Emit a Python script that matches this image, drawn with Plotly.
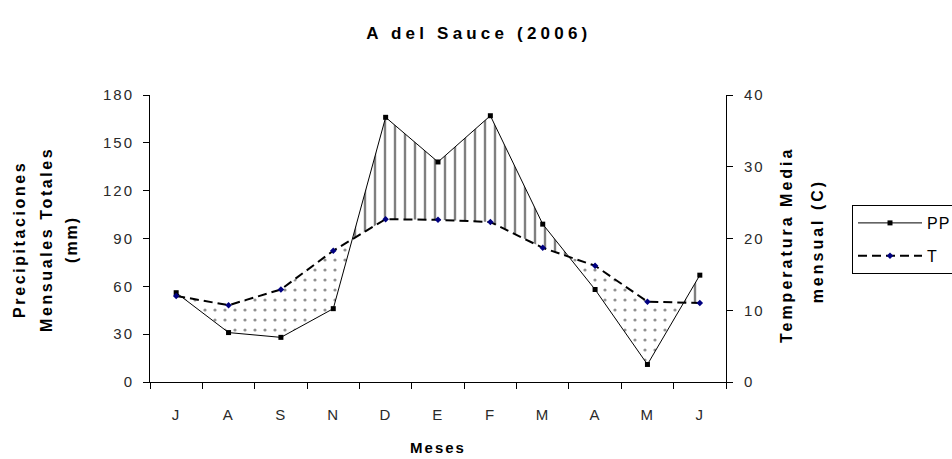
import numpy as np
import plotly.graph_objects as go

months = ["J", "A", "S", "N", "D", "E", "F", "M", "A", "M", "J"]
pp = [56, 31, 28, 46, 166, 138, 167, 99, 58, 11, 67]          # mm
temp = [12.0, 10.7, 12.9, 18.3, 22.7, 22.6, 22.3, 18.7, 16.2, 11.2, 11.0]  # C
pp_ticks = [0, 30, 60, 90, 120, 150, 180]
t_ticks = [0, 10, 20, 30, 40]
pp_max, t_max = 180, 40
scale = pp_max / t_max

xs = np.arange(len(months), dtype=float)
p = np.array(pp, dtype=float)
t = np.array(temp) * scale

# insert crossing points between PP and scaled T
xr, pr, tr = [xs[0]], [p[0]], [t[0]]
for i in range(len(xs) - 1):
    d0, d1 = p[i] - t[i], p[i + 1] - t[i + 1]
    if d0 * d1 < 0:
        f = d0 / (d0 - d1)
        xc = xs[i] + f
        yc = p[i] + f * (p[i + 1] - p[i])
        xr.append(xc); pr.append(yc); tr.append(yc)
    xr.append(xs[i + 1]); pr.append(p[i + 1]); tr.append(t[i + 1])
xr, pr, tr = np.array(xr), np.array(pr), np.array(tr)
upper = np.maximum(pr, tr)
lower = np.minimum(pr, tr)


def sp(s, ls):
    return f'<span style="letter-spacing:{ls}px">{s}</span>'


font = "Liberation Sans, Arial, sans-serif"
fig = go.Figure()
nl = dict(width=0)
fig.add_trace(go.Scatter(x=xr, y=tr, mode="lines", line=nl, showlegend=False, hoverinfo="skip"))
fig.add_trace(go.Scatter(x=xr, y=upper, mode="lines", line=nl, fill="tonexty", fillcolor="rgba(0,0,0,0)",
                         fillpattern=dict(shape="|", size=10, solidity=0.24, fgcolor="black", bgcolor="white"),
                         showlegend=False, hoverinfo="skip"))
fig.add_trace(go.Scatter(x=xr, y=lower, mode="lines", line=nl, showlegend=False, hoverinfo="skip"))
fig.add_trace(go.Scatter(x=xr, y=tr, mode="lines", line=nl, fill="tonexty", fillcolor="rgba(0,0,0,0)",
                         fillpattern=dict(shape=".", size=10, solidity=0.08, fgcolor="#222", bgcolor="white"),
                         showlegend=False, hoverinfo="skip"))
fig.add_trace(go.Scatter(x=xs, y=pp, name=sp("PP", 1), mode="lines+markers", legendgroup="a",
                         line=dict(color="black", width=1),
                         marker=dict(symbol="square", size=5, color="black")))
fig.add_trace(go.Scatter(x=xs, y=temp, name=sp("T", 1), yaxis="y2", mode="lines+markers", legendgroup="b",
                         line=dict(color="black", width=2, dash="9px,5px"),
                         marker=dict(symbol="diamond", size=5, color="#000080")))

W, H = 952, 459
L, R, T_, B = 150, 226, 95, 77
pw, ph = W - L - R, H - T_ - B

bounds = list(np.arange(-0.5, len(months), 1.0))
xrange_ = [-0.5, len(months) - 0.5]
half_cat = int(round(pw / len(months) / 2))
tickfont = dict(family=font, size=15, color="#2a2a2a")
titlefont = dict(family=font, size=16, color="black")
fig.update_layout(
    width=W, height=H,
    margin=dict(l=L, r=R, t=T_, b=B, autoexpand=False),
    paper_bgcolor="white", plot_bgcolor="white",
    title=dict(text="<b>" + sp("A del Sauce (2006)", 4.2) + "</b>", x=0.503, xanchor="center",
               y=0.928, yanchor="middle", font=dict(family=font, size=17, color="black")),
    # ticks at category boundaries; labels shifted to the category centres
    xaxis=dict(range=xrange_, tickmode="array", tickvals=bounds,
               ticktext=[sp(m, 1) for m in months] + [""], ticks="outside", ticklen=6,
               tickcolor="black", tickwidth=1, ticklabelshift=half_cat, ticklabelstandoff=13,
               showline=True, linecolor="black", linewidth=1, showgrid=False,
               zeroline=False, tickfont=tickfont,
               title=dict(text="<b>" + sp("Meses", 2) + "</b>", font=dict(family=font, size=15, color="black"),
                          standoff=20)),
    yaxis=dict(range=[0, pp_max], tickvals=pp_ticks, ticktext=[sp(v, 2) for v in pp_ticks],
               ticks="outside", ticklen=6, tickcolor="black", ticklabelstandoff=6, showline=True,
               linecolor="black", showgrid=False, zeroline=False, tickfont=tickfont),
    yaxis2=dict(range=[0, t_max], tickvals=t_ticks, ticktext=[sp(v, 2) for v in t_ticks], overlaying="y",
                side="right", ticks="outside", ticklen=6, tickcolor="black", ticklabelstandoff=8,
                showline=True, linecolor="black", showgrid=False, zeroline=False, tickfont=tickfont),
    legend=dict(x=(852 - L) / pw, y=(H - B - 205) / ph, xanchor="left", yanchor="top",
                bordercolor="black", borderwidth=1,
                bgcolor="white", font=dict(family=font, size=16, color="black"),
                traceorder="grouped", tracegroupgap=9, itemwidth=64),
    showlegend=True,
    annotations=[
        dict(text="<b>" + sp("Precipitaciones", 2.6) + "</b>", xref="paper", yref="paper",
             x=(20 - L) / pw, y=0.495, textangle=-90, showarrow=False, font=titlefont,
             xanchor="center", yanchor="middle"),
        dict(text="<b>" + sp("Mensuales Totales", 2.6) + "</b>", xref="paper", yref="paper",
             x=(47 - L) / pw, y=0.495, textangle=-90, showarrow=False, font=titlefont,
             xanchor="center", yanchor="middle"),
        dict(text="<b>" + sp("(mm)", 2) + "</b>", xref="paper", yref="paper",
             x=(72 - L) / pw, y=0.495, textangle=-90, showarrow=False, font=titlefont,
             xanchor="center", yanchor="middle"),
        dict(text="<b>" + sp("Temperatura Media", 3) + "</b>", xref="paper", yref="paper",
             x=(786 - L) / pw, y=0.477, textangle=-90, showarrow=False, font=titlefont,
             xanchor="center", yanchor="middle"),
        dict(text="<b>" + sp("mensual (C)", 3) + "</b>", xref="paper", yref="paper",
             x=(817 - L) / pw, y=0.49, textangle=-90, showarrow=False, font=titlefont,
             xanchor="center", yanchor="middle"),
    ],
)
fig.write_html("out.html")
